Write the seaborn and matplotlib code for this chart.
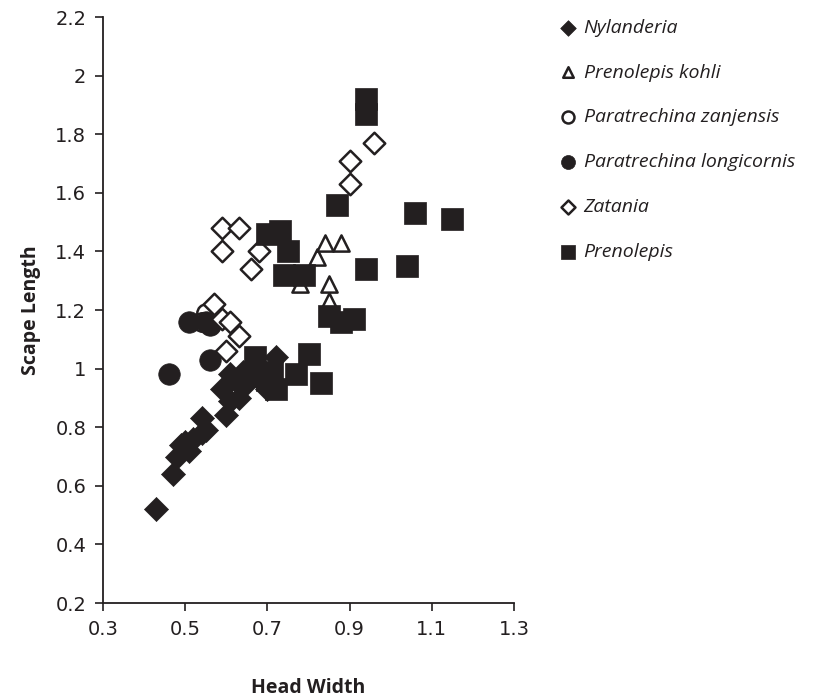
import pandas as pd
import matplotlib.pyplot as plt
import seaborn as sns
import numpy as np


# Scape length vs head width by taxon

nyl_x = [0.43, 0.47, 0.48, 0.49, 0.50, 0.51, 0.52, 0.54, 0.54, 0.55, 0.59, 0.60, 0.61, 0.61, 0.62, 0.63, 0.64, 0.65, 0.67, 0.69, 0.70, 0.72]
nyl_y = [0.52, 0.64, 0.70, 0.74, 0.75, 0.72, 0.76, 0.83, 0.78, 0.79, 0.93, 0.84, 0.98, 0.89, 0.96, 0.90, 0.99, 0.95, 0.98, 0.95, 0.93, 1.04]

kohli_x = [0.78, 0.82, 0.84, 0.88, 0.85, 0.85]
kohli_y = [1.29, 1.38, 1.43, 1.43, 1.29, 1.23]

zanj_x = [0.55, 0.58, 0.56, 0.54]
zanj_y = [1.19, 1.17, 1.15, 1.16]

longi_x = [0.46, 0.51, 0.55, 0.56, 0.56]
longi_y = [0.98, 1.16, 1.16, 1.15, 1.03]

zat_x = [0.96, 0.90, 0.90, 0.59, 0.63, 0.59, 0.68, 0.66, 0.57, 0.59, 0.61, 0.63, 0.60]
zat_y = [1.77, 1.71, 1.63, 1.48, 1.48, 1.40, 1.40, 1.34, 1.22, 1.17, 1.16, 1.11, 1.06]

pren_x = [0.94, 0.94, 0.87, 1.06, 1.15, 0.70, 0.73, 0.75, 0.74, 0.79, 0.94, 1.04, 0.85, 0.88, 0.91, 0.67, 0.80, 0.77, 0.83, 0.71, 0.72, 0.70]
pren_y = [1.92, 1.87, 1.56, 1.53, 1.51, 1.46, 1.47, 1.40, 1.32, 1.32, 1.34, 1.35, 1.18, 1.16, 1.17, 1.04, 1.05, 0.98, 0.95, 0.99, 0.93, 0.96]

species = ["Nylanderia", "Prenolepis kohli", "Paratrechina zanjensis",
           "Paratrechina longicornis", "Zatania", "Prenolepis"]
xs = [nyl_x, kohli_x, zanj_x, longi_x, zat_x, pren_x]
ys = [nyl_y, kohli_y, zanj_y, longi_y, zat_y, pren_y]

dark = "#231f20"
markers = ["D", "^", "o", "o", "D", "s"]
filled = [True, False, False, True, False, True]
sizes = [150, 170, 220, 240, 150, 270]

sns.set_style("white")
plt.rcParams['font.family'] = ['DejaVu Sans']

fig = plt.figure(figsize=(8.35, 6.98), dpi=100)
ax = fig.add_axes([0.1234, 0.1361, 0.4922, 0.8395])

for name, x, y, m, f, s in zip(species, xs, ys, markers, filled, sizes):
    df = pd.DataFrame({"Head Width": x, "Scape Length": y})
    if f:
        sns.scatterplot(data=df, x="Head Width", y="Scape Length", ax=ax, marker=m, s=s,
                        color=dark, edgecolor=dark, linewidth=0.5, label=name, zorder=3)
    else:
        sns.scatterplot(data=df, x="Head Width", y="Scape Length", ax=ax, marker=m, s=s * 0.8,
                        color="white", edgecolor=dark, linewidth=1.8, label=name, zorder=3)

ax.set_xlim(0.3, 1.3)
ax.set_ylim(0.2, 2.2)
ax.set_xticks(np.arange(0.3, 1.31, 0.2))
ax.set_yticks(np.arange(0.2, 2.21, 0.2))
ax.set_xticklabels(["0.3", "0.5", "0.7", "0.9", "1.1", "1.3"])
ax.set_yticklabels(["0.2", "0.4", "0.6", "0.8", "1", "1.2", "1.4", "1.6", "1.8", "2", "2.2"])
ax.tick_params(axis="both", direction="out", length=6, width=1.2, colors=dark,
               labelsize=14, pad=6, bottom=True, left=True)
for side in ["top", "right"]:
    ax.spines[side].set_visible(False)
for side in ["left", "bottom"]:
    ax.spines[side].set_color(dark)
    ax.spines[side].set_linewidth(1.3)

ax.set_xlabel("Head Width", fontsize=14, fontweight="bold", family="Open Sans",
              color=dark, labelpad=28)
ax.set_ylabel("Scape Length", fontsize=14, fontweight="bold", family="Open Sans",
              color=dark, labelpad=10)

leg = ax.legend(loc="upper left", bbox_to_anchor=(1.065, 1.027), frameon=False,
                markerscale=0.65, labelspacing=1.38, handletextpad=0.3,
                handlelength=1.0, prop={"family": "Open Sans", "style": "italic", "size": 14})
for t in leg.get_texts():
    t.set_color(dark)

plt.savefig("out.png", dpi=100)
